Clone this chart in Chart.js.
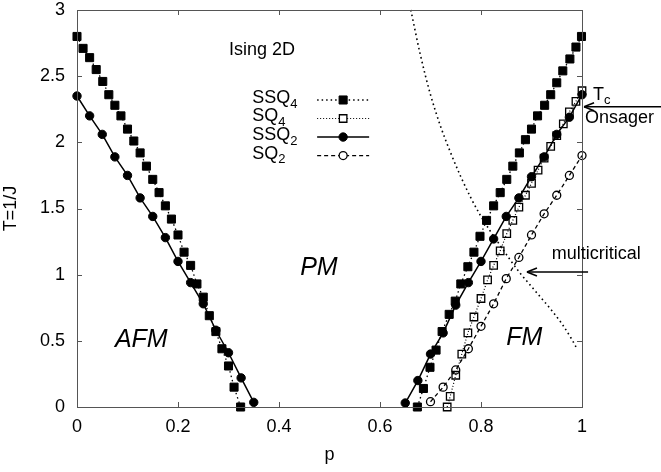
<!DOCTYPE html>
<html>
<head>
<meta charset="utf-8">
<script src="https://cdn.jsdelivr.net/npm/chart.js@4.4.1/dist/chart.umd.min.js"></script>
<style>
  html, body { margin: 0; padding: 0; background: #fff; }
  #wrap { width: 661px; height: 472px; }
</style>
</head>
<body>
<div id="wrap"><canvas id="chart" width="661" height="472"></canvas></div>
<script>
// assi
const xTicks = [0, 0.2, 0.4, 0.6, 0.8, 1];
const yTicks = [0, 0.5, 1, 1.5, 2, 2.5, 3];

// SSQ4 (quadrati pieni), ramo AFM e ramo FM
const pSSQ4L = [0, 0.012, 0.025, 0.038, 0.051, 0.063, 0.075, 0.087, 0.1, 0.1125, 0.125, 0.1375, 0.15, 0.1625,
                0.175, 0.187, 0.2, 0.212, 0.225, 0.2375, 0.25, 0.262, 0.275, 0.287, 0.3, 0.311, 0.324];
const tSSQ4L = [2.80, 2.71, 2.64, 2.55, 2.46, 2.36, 2.28, 2.20, 2.10, 2.01, 1.92, 1.82, 1.72, 1.62,
                1.52, 1.42, 1.30, 1.17, 1.07, 0.93, 0.83, 0.69, 0.57, 0.44, 0.31, 0.15, 0.0];
const pSSQ4R = [0.674, 0.686, 0.699, 0.711, 0.723, 0.737, 0.749, 0.76, 0.774, 0.786, 0.798, 0.811, 0.825, 0.838,
                0.851, 0.863, 0.876, 0.888, 0.9, 0.912, 0.926, 0.938, 0.95, 0.962, 0.976, 0.988, 0.999];
const tSSQ4R = [0.0, 0.14, 0.30, 0.43, 0.57, 0.70, 0.80, 0.93, 1.06, 1.17, 1.29, 1.41, 1.52, 1.62,
                1.72, 1.82, 1.92, 2.02, 2.10, 2.20, 2.28, 2.36, 2.45, 2.54, 2.63, 2.72, 2.80];

// SQ4 (quadrati vuoti)
const pSQ4 = [0.733, 0.739, 0.75, 0.762, 0.774, 0.786, 0.8, 0.813, 0.825, 0.838, 0.851, 0.863,
              0.875, 0.888, 0.9, 0.913, 0.925, 0.938, 0.95, 0.963, 0.975, 0.988, 1.0];
const tSQ4 = [0.0, 0.08, 0.24, 0.40, 0.56, 0.68, 0.82, 0.96, 1.07, 1.18, 1.31, 1.41,
              1.51, 1.60, 1.69, 1.79, 1.88, 1.97, 2.05, 2.14, 2.23, 2.31, 2.39];

// SSQ2 (cerchi pieni)
const pSSQ2L = [0, 0.025, 0.05, 0.075, 0.1, 0.125, 0.15, 0.175, 0.2, 0.225, 0.25, 0.275, 0.3, 0.325, 0.35];
const tSSQ2L = [2.35, 2.20, 2.06, 1.89, 1.75, 1.58, 1.44, 1.28, 1.10, 0.94, 0.78, 0.58, 0.41, 0.22, 0.035];
const pSSQ2R = [0.65, 0.675, 0.7, 0.725, 0.75, 0.775, 0.8, 0.825, 0.85, 0.875, 0.9, 0.925, 0.95, 0.975, 1.0];
const tSSQ2R = [0.03, 0.20, 0.40, 0.56, 0.77, 0.94, 1.10, 1.27, 1.44, 1.58, 1.74, 1.89, 2.06, 2.19, 2.36];

// SQ2 (cerchi vuoti)
const pSQ2 = [0.7, 0.725, 0.75, 0.775, 0.8, 0.825, 0.85, 0.875, 0.9, 0.925, 0.95, 0.975, 1.0];
const tSQ2 = [0.04, 0.15, 0.28, 0.44, 0.61, 0.78, 0.97, 1.13, 1.30, 1.46, 1.60, 1.75, 1.90];

// linea punteggiata (Nishimori)
const pNish = [0.661, 0.68, 0.7, 0.72, 0.74, 0.76, 0.78, 0.8, 0.82, 0.84, 0.86, 0.88, 0.9, 0.92, 0.94, 0.96, 0.98, 0.99];
const tNish = [3.0, 2.66, 2.36, 2.12, 1.92, 1.74, 1.58, 1.44, 1.32, 1.21, 1.10, 1.00, 0.91, 0.82, 0.73, 0.63, 0.51, 0.44];

const T_ONSAGER = 2.269;
const MULTICRIT = { p: 0.891, t: 1.02 };

const FONT = "'Liberation Sans', Arial, sans-serif";

const pts = (ps, ts) => ps.map((p, i) => ({ x: p, y: ts[i] }));
const fmt = v => String(Math.round(v * 10) / 10);

// stili delle serie
const STYLES = {
    SSQ4: { dash: [1.5, 3], lw: 1.3, point: "rect", r: 5.7, fill: true },
    SQ4:  { dash: [1, 2], lw: 1.2, point: "rect", r: 5.3, fill: false },
    SSQ2: { dash: [], lw: 1.5, point: "circle", r: 4.2, fill: true },
    SQ2:  { dash: [4, 3], lw: 1.3, point: "circle", r: 4.0, fill: false }
};

function series(name, data) {
    const s = STYLES[name];
    return {
        label: name,
        data: data,
        showLine: true,
        borderColor: "#000",
        borderWidth: s.lw,
        borderDash: s.dash,
        pointStyle: s.point,
        pointRadius: s.r,
        pointHoverRadius: s.r,
        pointBorderColor: "#000",
        pointBorderWidth: s.fill ? 1 : 1.3,
        pointBackgroundColor: s.fill ? "#000" : "rgba(0,0,0,0)",
        clip: false
    };
}

function line(ctx, x1, y1, x2, y2) {
    ctx.beginPath();
    ctx.moveTo(x1, y1);
    ctx.lineTo(x2, y2);
    ctx.stroke();
}

function arrowLeft(ctx, xHead, xTail, y) {
    ctx.lineWidth = 1.6;
    line(ctx, xTail, y, xHead, y);
    line(ctx, xHead, y, xHead + 10, y - 4);
    line(ctx, xHead, y, xHead + 10, y + 4);
}

// testo con pedice
function subText(ctx, base, sub, x, y) {
    ctx.font = "18px " + FONT;
    ctx.textAlign = "left";
    ctx.textBaseline = "middle";
    ctx.fillText(base, x, y);
    const w = ctx.measureText(base).width;
    ctx.font = "13px " + FONT;
    ctx.fillText(sub, x + w, y + 6);
}

function legendMarker(ctx, name, cx, cy) {
    const s = STYLES[name];
    ctx.save();
    ctx.lineWidth = s.lw;
    ctx.setLineDash(s.dash);
    line(ctx, cx - 26, cy, cx + 26, cy);
    ctx.setLineDash([]);
    ctx.lineWidth = s.fill ? 1 : 1.3;
    ctx.beginPath();
    if (s.point === "rect") {
        const h = s.r * Math.SQRT1_2;
        ctx.rect(cx - h, cy - h, 2 * h, 2 * h);
    } else {
        ctx.arc(cx, cy, s.r, 0, Math.PI * 2);
    }
    if (s.fill) {
        ctx.fill();
    } else {
        ctx.fillStyle = "#fff";
        ctx.fill();
        ctx.fillStyle = "#000";
    }
    ctx.stroke();
    ctx.restore();
}

const LEGEND = ["SSQ4", "SQ4", "SSQ2", "SQ2"];

const decor = {
    id: "decor",
    afterDatasetsDraw(chart) {
        const { ctx, chartArea: a, scales: { x, y } } = chart;
        ctx.save();
        ctx.strokeStyle = "#555";
        ctx.lineWidth = 1;
        ctx.strokeRect(a.left + 0.5, a.top + 0.5, a.right - a.left, a.bottom - a.top);

        // tacche verso l'interno, su tutti i lati
        xTicks.forEach(v => {
            const px = Math.round(x.getPixelForValue(v)) + 0.5;
            line(ctx, px, a.bottom, px, a.bottom - 5);
            line(ctx, px, a.top, px, a.top + 5);
        });
        yTicks.forEach(v => {
            const py = Math.round(y.getPixelForValue(v)) + 0.5;
            line(ctx, a.left, py, a.left + 5, py);
            line(ctx, a.right, py, a.right - 5, py);
        });

        ctx.strokeStyle = "#000";
        ctx.fillStyle = "#000";
        ctx.textBaseline = "middle";
        ctx.textAlign = "left";

        ctx.font = "18px " + FONT;
        ctx.fillText("Ising 2D", x.getPixelForValue(0.301), y.getPixelForValue(2.70));

        // legenda
        const lx = x.getPixelForValue(0.347);
        const mx = x.getPixelForValue(0.527);
        const rows = [2.32, 2.18, 2.04, 1.90];
        LEGEND.forEach((name, i) => {
            const py = y.getPixelForValue(rows[i]);
            subText(ctx, name.slice(0, -1), name.slice(-1), lx, py - 2);
            legendMarker(ctx, name, mx, py);
        });

        // regioni
        ctx.font = "italic 25px " + FONT;
        ctx.textAlign = "left";
        ctx.fillText("AFM", x.getPixelForValue(0.075), y.getPixelForValue(0.506));
        ctx.fillText("FM", x.getPixelForValue(0.85), y.getPixelForValue(0.52));
        ctx.textAlign = "center";
        ctx.fillText("PM", x.getPixelForValue(0.479), y.getPixelForValue(1.05));

        // frecce
        const yOns = y.getPixelForValue(T_ONSAGER);
        arrowLeft(ctx, x.getPixelForValue(1.004), chart.width, yOns);
        subText(ctx, "T", "c", x.getPixelForValue(1.022), yOns - 12);
        ctx.font = "18px " + FONT;
        ctx.textAlign = "left";
        ctx.fillText("Onsager", x.getPixelForValue(1.006), yOns + 11);

        const yMc = y.getPixelForValue(MULTICRIT.t);
        arrowLeft(ctx, x.getPixelForValue(MULTICRIT.p), x.getPixelForValue(1.012), yMc);
        ctx.font = "18px " + FONT;
        ctx.fillText("multicritical", x.getPixelForValue(0.94), yMc - 18);

        ctx.restore();
    }
};

new Chart(document.getElementById("chart"), {
    type: "scatter",
    data: {
        datasets: [
            {
                label: "Nishimori",
                data: pts(pNish, tNish),
                showLine: true,
                borderColor: "#000",
                borderWidth: 1.6,
                borderDash: [1.6, 3.2],
                pointRadius: 0,
                cubicInterpolationMode: "monotone",
                clip: false
            },
            series("SQ2", pts(pSQ2, tSQ2)),
            series("SQ4", pts(pSQ4, tSQ4)),
            series("SSQ2", pts(pSSQ2L, tSSQ2L)),
            series("SSQ2", pts(pSSQ2R, tSSQ2R)),
            series("SSQ4", pts(pSSQ4L, tSSQ4L)),
            series("SSQ4", pts(pSSQ4R, tSSQ4R))
        ]
    },
    options: {
        responsive: false,
        animation: false,
        devicePixelRatio: 1,
        layout: { padding: { left: 0, top: 10, right: 79, bottom: 0 } },
        plugins: {
            legend: { display: false },
            tooltip: { enabled: false }
        },
        scales: {
            x: {
                type: "linear",
                min: 0,
                max: 1,
                afterFit: s => { s.height = 65; s.paddingLeft = 0; s.paddingRight = 0; },
                afterBuildTicks: s => { s.ticks = xTicks.map(v => ({ value: v })); },
                grid: { display: false, drawTicks: false },
                border: { display: false },
                ticks: {
                    padding: 11,
                    color: "#000",
                    font: { family: FONT, size: 18, lineHeight: 1 },
                    maxRotation: 0,
                    callback: fmt
                },
                title: {
                    display: true,
                    text: "p",
                    color: "#000",
                    font: { family: FONT, size: 18 },
                    padding: { top: 0, bottom: 6 }
                }
            },
            y: {
                type: "linear",
                min: 0,
                max: 3,
                afterFit: s => { s.width = 77; s.paddingTop = 0; s.paddingBottom = 0; },
                afterBuildTicks: s => { s.ticks = yTicks.map(v => ({ value: v })); },
                grid: { display: false, drawTicks: false },
                border: { display: false },
                ticks: {
                    padding: 12,
                    color: "#000",
                    font: { family: FONT, size: 18, lineHeight: 1 },
                    callback: fmt
                },
                title: {
                    display: true,
                    text: "T=1/J",
                    color: "#000",
                    font: { family: FONT, size: 18 },
                    padding: { top: 0, bottom: 0 }
                }
            }
        }
    },
    plugins: [decor]
});
</script>
</body>
</html>
